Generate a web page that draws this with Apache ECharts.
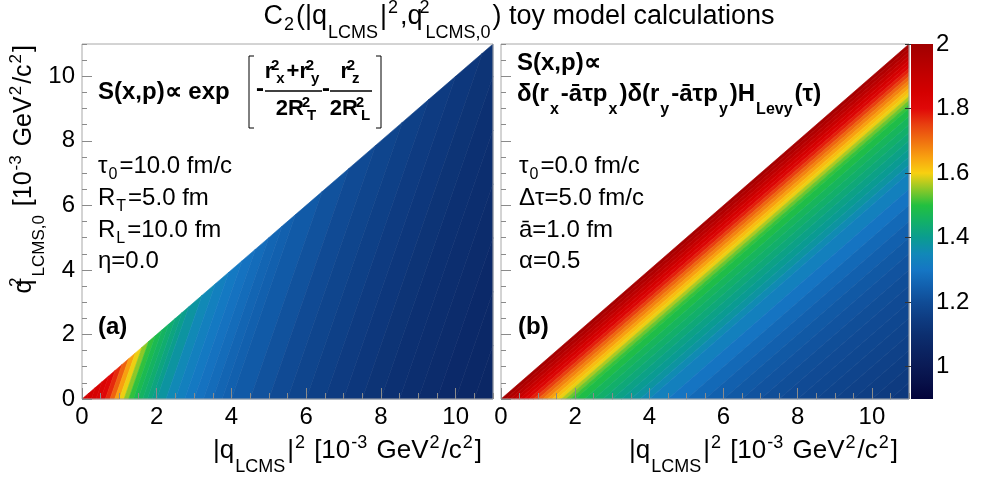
<!DOCTYPE html>
<html><head><meta charset="utf-8">
<script src="https://cdn.jsdelivr.net/npm/echarts@6/dist/echarts.min.js"></script>
<style>html,body{margin:0;padding:0;background:#fff}#c{width:982px;height:483px}</style>
</head><body><div id="c"></div>
<script>
// ---------------- data ----------------
const axisMax = 11;
const tickLabels = [0, 2, 4, 6, 8, 10];
const colorbarLabels = [1, 1.2, 1.4, 1.6, 1.8, 2];
const zMin = 0.9, zMax = 2.0;

// panel (a): C2 read along contour bands u = |q|^2 - tiltA * q0^2 (value read at q0^2 = 0)
const tiltA = 0.3;
const uEdgesA = [0,0.125,0.25,0.375,0.5,0.625,0.75,0.875,1,1.125,1.25,1.375,1.5,1.625,1.75,1.875,2,2.25,2.5,2.75,3,3.25,3.5,3.75,4,4.5,5,5.5,6,6.5,7,7.5,8,8.5,9,9.5,10,10.5,11];
const valuesA = [1.858,1.851,1.84,1.825,1.806,1.77,1.715,1.65,1.595,1.55,1.507,1.48,1.46,1.442,1.423,1.405,1.38,1.352,1.327,1.307,1.292,1.277,1.262,1.25,1.235,1.215,1.195,1.177,1.162,1.147,1.132,1.118,1.105,1.095,1.085,1.075,1.068,1.062];

// panel (b): C2 read along bands parallel to the diagonal, d = |q|^2 - q0^2
const dEdgesB = [0,0.125,0.25,0.375,0.5,0.625,0.75,0.875,1,1.125,1.25,1.375,1.5,1.625,1.75,1.875,2,2.25,2.5,2.75,3,3.25,3.5,3.75,4,4.5,5,5.5,6,6.5,7,7.5,8,8.5,9,9.5,10,10.5,11];
const valuesB = [1.985,1.955,1.925,1.89,1.85,1.82,1.78,1.75,1.71,1.68,1.65,1.62,1.595,1.565,1.535,1.51,1.49,1.465,1.447,1.43,1.413,1.398,1.38,1.357,1.328,1.295,1.27,1.25,1.232,1.218,1.205,1.195,1.185,1.175,1.165,1.155,1.145,1.135];

// colour palette (evenly spaced from zMin to zMax)
const cmap = ['#03033a','#071048','#0a1a55','#0b2462','#0c2f70','#0e3c82','#104c96','#1260ae','#1576c4','#1188b8','#0a9c90','#12b068','#22c040','#8cc828','#f8d010','#f8a010','#f07010','#e84010','#e00808','#d40000','#c40000','#b20000','#a00000'];

// ---------------- build ----------------
const F = '"Liberation Sans", Arial, Helvetica, sans-serif';
const dataA = valuesA.map((v, k) => [v, uEdgesA[k], uEdgesA[k+1]]);
const dataB = valuesB.map((v, k) => [v, dEdgesB[k], dEdgesB[k+1]]);

// keep a*x + b*y + c >= 0
function clipHalf(pts, a, b, c) {
  const out = [];
  for (let k = 0; k < pts.length; k++) {
    const p = pts[k], q = pts[(k + 1) % pts.length];
    const fp = a * p[0] + b * p[1] + c, fq = a * q[0] + b * q[1] + c;
    if (fp >= 0) out.push(p);
    if ((fp >= 0) !== (fq >= 0)) {
      const t = fp / (fp - fq);
      out.push([p[0] + t * (q[0] - p[0]), p[1] + t * (q[1] - p[1])]);
    }
  }
  return out;
}
const triangle = [[0, 0], [axisMax, 0], [axisMax, axisMax]];
function renderA(params, api) {
  const u0 = api.value(1), u1 = api.value(2);
  let poly = clipHalf(triangle, 1, -tiltA, -u0);
  poly = clipHalf(poly, -1, tiltA, u1);
  if (poly.length < 3) return null;
  const c = api.visual('color');
  return {type: 'polygon', shape: {points: poly.map(p => api.coord(p))}, style: {fill: c, stroke: c, lineWidth: 0.6}};
}
function renderB(params, api) {
  const d0 = api.value(1), d1 = api.value(2);
  let poly = clipHalf(triangle, 1, -1, -d0);
  poly = clipHalf(poly, -1, 1, d1);
  if (poly.length < 3) return null;
  const c = api.visual('color');
  return {type: 'polygon', shape: {points: poly.map(p => api.coord(p))}, style: {fill: c, stroke: c, lineWidth: 0.6}};
}

// rich text helper (sub/superscripts)
function richStyles(fs, bold) {
  const fw = bold ? 'bold' : 'normal';
  const fss = Math.round(fs * 0.68);
  const L = 2 * fs;
  const base = {fontFamily: F, fontWeight: fw, color: '#000'};
  const sub = drop => Object.assign({}, base, {fontSize: fss, verticalAlign: 'bottom',
      padding: [0, 2, Math.max(0, 0.6535 * fs - 0.1535 * fss - drop), 1]});
  const sup = (raise, w0) => Object.assign({}, base, {fontSize: fss, verticalAlign: 'top',
      padding: [Math.max(0, 1.3465 * fs - raise - 0.8465 * fss), w0 ? 0 : 2, 0, w0 ? 2 : 1]}, w0 ? {width: 0} : {});
  return {
    n: Object.assign({}, base, {fontSize: fs, lineHeight: L, verticalAlign: 'middle'}),
    s: sub(0.2 * fs), sd: sub(0.5 * fs),
    u: sup(0.42 * fs, false), u0: sup(0.42 * fs, true)
  };
}
function txt(x, baseline, text, fs, o) {
  o = o || {};
  const rot = o.rot || 0;
  const off = 0.3465 * fs;
  const px = rot ? x - off : x, py = rot ? baseline : baseline - off;
  const al = o.align || 'left';
  return {type: 'text', x: px, y: py, rotation: rot, silent: true, z: 50,
    style: {text, rich: richStyles(fs, !!o.bold), align: al, textAlign: al,
      verticalAlign: 'middle', textVerticalAlign: 'middle', fill: '#000', fontFamily: F, fontSize: fs}};
}
function seg(pts, w) {
  return {type: 'polyline', silent: true, z: 50, shape: {points: pts}, style: {stroke: '#000', lineWidth: w || 1, fill: null}};
}

const tickCol = '#8a8a8a';
function majorX(g, show) {
  return {gridIndex: g, type: 'value', position: 'bottom', min: 0, max: axisMax, z: 10,
    axisLine: {show: false}, splitLine: {show: false},
    axisTick: {show: true, inside: true, length: 11, customValues: tickLabels, lineStyle: {color: tickCol}},
    axisLabel: {show: show, customValues: tickLabels, margin: 6, fontSize: 24, fontFamily: F, color: '#000'}};
}
function minorX(g) {
  return {gridIndex: g, type: 'value', position: 'bottom', min: 0, max: axisMax, interval: 0.5, z: 10,
    axisLine: {show: false}, splitLine: {show: false}, axisLabel: {show: false},
    axisTick: {show: true, inside: true, length: 6, lineStyle: {color: tickCol}}};
}
function majorY(g, show) {
  return {gridIndex: g, type: 'value', position: 'left', min: 0, max: axisMax, z: 10,
    axisLine: {show: false}, splitLine: {show: false},
    axisTick: {show: true, inside: true, length: 10, customValues: tickLabels, lineStyle: {color: tickCol}},
    axisLabel: {show: show, customValues: tickLabels, margin: 7, fontSize: 24, fontFamily: F, color: '#000'}};
}
function minorY(g) {
  return {gridIndex: g, type: 'value', position: 'left', min: 0, max: axisMax, interval: 0.5, z: 10,
    axisLine: {show: false}, splitLine: {show: false}, axisLabel: {show: false},
    axisTick: {show: true, inside: true, length: 5, lineStyle: {color: tickCol}}};
}

const stops = cmap.map((c, k) => ({offset: k / (cmap.length - 1), color: c}));
const frame = {show: true, borderColor: '#a8a8a8', borderWidth: 1, backgroundColor: 'transparent', z: 10};

const chart = echarts.init(document.getElementById('c'), null, {renderer: 'canvas'});
chart.setOption({
  animation: false,
  backgroundColor: '#fff',
  grid: [
    Object.assign({left: 82, top: 44, width: 411, height: 355}, frame),
    Object.assign({left: 501, top: 44, width: 408, height: 355}, frame),
    {left: 911, top: 44, width: 22, height: 355, show: true, borderWidth: 0,
     backgroundColor: new echarts.graphic.LinearGradient(0, 1, 0, 0, stops)}
  ],
  xAxis: [majorX(0, true), minorX(0), majorX(1, true), minorX(1),
    {gridIndex: 2, type: 'value', show: false, min: 0, max: 1}],
  yAxis: [majorY(0, true), minorY(0), majorY(1, false), minorY(1),
    {gridIndex: 2, type: 'value', position: 'right', min: zMin, max: zMax, z: 10,
     axisLine: {show: false}, splitLine: {show: false},
     axisTick: {show: true, inside: true, length: 6, customValues: colorbarLabels, lineStyle: {color: '#333'}},
     axisLabel: {customValues: colorbarLabels, margin: 3, fontSize: 24, fontFamily: F, color: '#000',
       formatter: v => String(Math.round(v * 10) / 10)}}],
  visualMap: [
    {show: false, type: 'continuous', seriesIndex: 0, dimension: 0, min: zMin, max: zMax, inRange: {color: cmap}},
    {show: false, type: 'continuous', seriesIndex: 1, dimension: 0, min: zMin, max: zMax, inRange: {color: cmap}}
  ],
  series: [
    {type: 'custom', xAxisIndex: 0, yAxisIndex: 0, data: dataA, renderItem: renderA, silent: true, z: 2},
    {type: 'custom', xAxisIndex: 2, yAxisIndex: 2, data: dataB, renderItem: renderB, silent: true, z: 2}
  ],
  graphic: [
    txt(519, 26, '{n|C}{s|2}{n|(|q}{sd|LCMS}{n||}{u|2}{n|,q}{u0|2}{sd|LCMS,0}{n|) toy model calculations}', 27, {align: 'center'}),
    txt(482, 460, '{n||q}{sd|LCMS}{n||}{u|2}{n| [10}{u|-3}{n| GeV}{u|2}{n|/c}{u|2}{n|]}', 26, {align: 'right'}),
    txt(898, 460, '{n||q}{sd|LCMS}{n||}{u|2}{n| [10}{u|-3}{n| GeV}{u|2}{n|/c}{u|2}{n|]}', 26, {align: 'right'}),
    txt(33, 45, '{n|q}{u0|2}{sd|LCMS,0}{n| [10}{u|-3}{n| GeV}{u|2}{n|/c}{u|2}{n|]}', 25, {align: 'right', rot: Math.PI / 2}),
    // panel (a) source formula
    txt(98, 101, '{n|S(x,p)∝ exp}', 24, {bold: true}),
    seg([[254, 56], [249, 56], [249, 128], [254, 128]], 1),
    txt(260, 98, '{n|-}', 24, {bold: true, align: 'center'}),
    txt(293, 80, '{n|r}{u0|2}{s|x}{n|+r}{u0|2}{s|y}', 22, {bold: true, align: 'center'}),
    seg([[265, 91], [322, 91]], 1.5),
    txt(297, 117, '{n|2R}{u0|2}{s|T}', 22, {bold: true, align: 'center'}),
    txt(326, 98, '{n|-}', 24, {bold: true, align: 'center'}),
    txt(351, 80, '{n|r}{u0|2}{s|z}', 22, {bold: true, align: 'center'}),
    seg([[330, 91], [372, 91]], 1.5),
    txt(351, 117, '{n|2R}{u0|2}{s|L}', 22, {bold: true, align: 'center'}),
    seg([[376, 56], [381, 56], [381, 128], [376, 128]], 1),
    // panel (a) parameters
    txt(98, 175, '{n|τ}{s|0}{n|=10.0 fm/c}', 24),
    txt(98, 207, '{n|R}{s|T}{n|=5.0 fm}', 24),
    txt(98, 239, '{n|R}{s|L}{n|=10.0 fm}', 24),
    txt(98, 270, '{n|η=0.0}', 24),
    txt(98, 336, '{n|(a)}', 24, {bold: true}),
    // panel (b)
    txt(517, 72, '{n|S(x,p)∝}', 24, {bold: true}),
    txt(517, 103, '{n|δ(r}{sd|x}{n|-āτp}{sd|x}{n|)δ(r}{sd|y}{n|-āτp}{sd|y}{n|)H}{sd|Levy}{n|(τ)}', 24, {bold: true}),
    txt(519, 175, '{n|τ}{s|0}{n|=0.0 fm/c}', 24),
    txt(519, 207, '{n|Δτ=5.0 fm/c}', 24),
    txt(519, 239, '{n|ā=1.0 fm}', 24),
    txt(519, 270, '{n|α=0.5}', 24),
    txt(518, 336, '{n|(b)}', 24, {bold: true})
  ]
});
</script></body></html>
